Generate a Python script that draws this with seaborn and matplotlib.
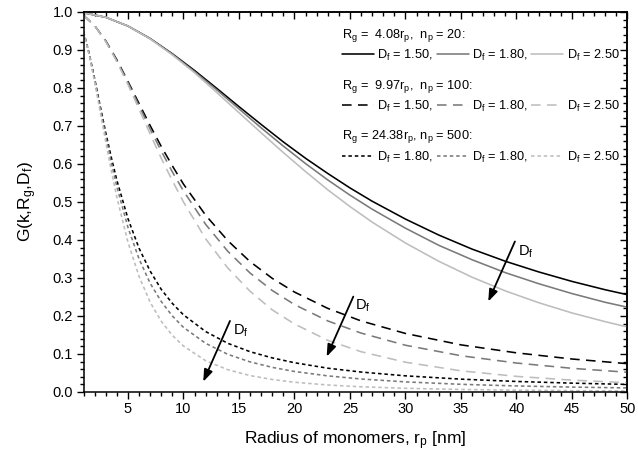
import matplotlib
matplotlib.use("Agg")
import matplotlib.pyplot as plt
from matplotlib.lines import Line2D
from matplotlib.legend import Legend
from matplotlib.ticker import MultipleLocator, FormatStrFormatter, NullFormatter
import seaborn as sns
import pandas as pd

sns.set_theme(style="ticks")
plt.rcParams["font.family"] = ["Liberation Sans", "DejaVu Sans"]
plt.rcParams["mathtext.fontset"] = "custom"
plt.rcParams["mathtext.rm"] = "Liberation Sans"
plt.rcParams["mathtext.it"] = "Liberation Sans:italic"
plt.rcParams["text.color"] = "black"
plt.rcParams["axes.labelcolor"] = "black"

# monomer radius r_p [nm] sampled for each aggregate size
r_small = [1, 3, 5, 7, 9, 11, 13, 15, 17, 19, 21, 23, 25, 27, 30, 33, 36, 39, 42, 45, 48, 50]
r_mid = [1, 2, 3, 4, 5, 6, 7, 8, 9, 10, 12, 14, 16, 18, 20, 23, 26, 30, 35, 40, 45, 50]
r_large = [1, 1.5, 2, 2.5, 3, 3.5, 4, 5, 6, 7, 8, 9, 10, 12, 14, 16, 18, 20, 23, 26, 30, 35, 40, 45, 50]

# Rg = 4.08 rp, np = 20
g20_df150 = [0.998, 0.986, 0.963, 0.930, 0.890, 0.846, 0.799, 0.751, 0.704, 0.658, 0.615,
             0.575, 0.537, 0.502, 0.455, 0.413, 0.376, 0.344, 0.316, 0.291, 0.269, 0.256]
g20_df180 = [0.998, 0.986, 0.963, 0.930, 0.889, 0.843, 0.795, 0.745, 0.695, 0.647, 0.601,
             0.558, 0.518, 0.481, 0.431, 0.386, 0.348, 0.314, 0.285, 0.259, 0.236, 0.223]
g20_df250 = [0.998, 0.986, 0.963, 0.929, 0.887, 0.840, 0.788, 0.735, 0.682, 0.630, 0.580,
             0.532, 0.488, 0.447, 0.392, 0.344, 0.302, 0.266, 0.235, 0.208, 0.185, 0.171]

# Rg = 9.97 rp, np = 100
g100_df150 = [0.991, 0.964, 0.924, 0.874, 0.817, 0.759, 0.701, 0.646, 0.595, 0.547, 0.465,
              0.398, 0.343, 0.299, 0.263, 0.220, 0.187, 0.154, 0.124, 0.103, 0.0868, 0.0745]
g100_df180 = [0.991, 0.964, 0.923, 0.872, 0.814, 0.753, 0.692, 0.634, 0.579, 0.529, 0.441,
              0.370, 0.313, 0.267, 0.230, 0.187, 0.155, 0.123, 0.0954, 0.0762, 0.0623, 0.0519]
g100_df250 = [0.991, 0.964, 0.922, 0.869, 0.809, 0.744, 0.679, 0.615, 0.556, 0.500, 0.403,
              0.326, 0.265, 0.216, 0.179, 0.136, 0.106, 0.0783, 0.0557, 0.0411, 0.0312, 0.0244]

# Rg = 24.38 rp, np = 500
g500_a = [0.948, 0.891, 0.824, 0.752, 0.682, 0.617, 0.557, 0.456, 0.378, 0.318, 0.270, 0.233,
          0.203, 0.159, 0.128, 0.106, 0.0897, 0.0770, 0.0626, 0.0525, 0.0425, 0.0338, 0.0277,
          0.0233, 0.0199]
g500_b = [0.948, 0.890, 0.820, 0.746, 0.673, 0.603, 0.540, 0.433, 0.350, 0.286, 0.238, 0.200,
          0.170, 0.128, 0.0990, 0.0792, 0.0648, 0.0540, 0.0424, 0.0342, 0.0266, 0.0202, 0.0159,
          0.0129, 0.0107]
g500_c = [0.947, 0.888, 0.816, 0.737, 0.658, 0.582, 0.512, 0.394, 0.304, 0.236, 0.186, 0.149,
          0.121, 0.0822, 0.0586, 0.0432, 0.0329, 0.0257, 0.0184, 0.0137, 0.00968, 0.00664,
          0.00478, 0.00357, 0.00275]

headers = [r"R$_\mathrm{g}$ =  4.08r$_\mathrm{p}$,  n$_\mathrm{p}$ = 20:",
           r"R$_\mathrm{g}$ =  9.97r$_\mathrm{p}$,  n$_\mathrm{p}$ = 100:",
           r"R$_\mathrm{g}$ = 24.38r$_\mathrm{p}$, n$_\mathrm{p}$ = 500:"]
row_labels = [[r"D$_\mathrm{f}$ = 1.50,", r"D$_\mathrm{f}$ = 1.80,", r"D$_\mathrm{f}$ = 2.50"],
              [r"D$_\mathrm{f}$ = 1.50,", r"D$_\mathrm{f}$ = 1.80,", r"D$_\mathrm{f}$ = 2.50"],
              [r"D$_\mathrm{f}$ = 1.80,", r"D$_\mathrm{f}$ = 1.80,", r"D$_\mathrm{f}$ = 2.50"]]

shades = ["#000000", "#7a7a7a", "#bdbdbd"]
styles = ["-", (0, (6.0, 4.0)), (0, (2.2, 1.8))]
groups = [(r_small, [g20_df150, g20_df180, g20_df250]),
          (r_mid, [g100_df150, g100_df180, g100_df250]),
          (r_large, [g500_a, g500_b, g500_c])]
LW = 1.15

fig = plt.figure(figsize=(6.38, 4.61), dpi=100)
ax = fig.add_axes([0.131, 0.1497, 0.8525, 0.8243])

for (r, series), ls in zip(groups, styles):
    for g, col in zip(series, shades):
        df = pd.DataFrame({"r": r, "G": g})
        sns.lineplot(data=df, x="r", y="G", ax=ax, color=col, linestyle=ls,
                     linewidth=LW, legend=False)

ax.set_xlim(1, 50)
ax.set_ylim(0, 1)
ax.set_xticks([5, 10, 15, 20, 25, 30, 35, 40, 45, 50])
ax.xaxis.set_minor_locator(MultipleLocator(1))
ax.yaxis.set_major_locator(MultipleLocator(0.1))
ax.yaxis.set_minor_locator(MultipleLocator(0.02))
ax.yaxis.set_major_formatter(FormatStrFormatter("%.1f"))
ax.tick_params(which="both", direction="out", width=1.0, labelsize=10.5,
               colors="black", pad=2.5)
ax.tick_params(which="major", length=5)
ax.tick_params(which="minor", length=3)
for sp in ax.spines.values():
    sp.set_linewidth(1.1)
    sp.set_color("black")

# mirrored ticks on the top and right edges, pointing inward
top = ax.secondary_xaxis("top")
top.set_xticks([5, 10, 15, 20, 25, 30, 35, 40, 45, 50])
top.xaxis.set_minor_locator(MultipleLocator(1))
top.xaxis.set_major_formatter(NullFormatter())
right = ax.secondary_yaxis("right")
right.yaxis.set_major_locator(MultipleLocator(0.1))
right.yaxis.set_minor_locator(MultipleLocator(0.02))
right.yaxis.set_major_formatter(NullFormatter())
for sec in (top, right):
    sec.tick_params(which="both", direction="in", width=1.0, colors="black")
    sec.tick_params(which="major", length=5)
    sec.tick_params(which="minor", length=3)
    for sp in sec.spines.values():
        sp.set_linewidth(1.1)
        sp.set_color("black")

ax.set_xlabel(r"Radius of monomers, r$_\mathrm{p}$ [nm]", fontsize=12.5, labelpad=9)
ax.set_ylabel(r"G(k,R$_\mathrm{g}$,D$_\mathrm{f}$)", fontsize=12.5, labelpad=10)

# three stacked legends, one per aggregate size
leg_y = [0.975, 0.841, 0.707]
for i, (ls, hdr) in enumerate(zip(styles, headers)):
    handles = [Line2D([], [], color=c, linestyle=ls, linewidth=LW) for c in shades]
    leg = Legend(ax, handles, row_labels[i], title=hdr, ncol=3, frameon=False,
                 loc="upper right", bbox_to_anchor=(0.995, leg_y[i]),
                 fontsize=9.2, title_fontsize=9.2, handlelength=2.5,
                 handletextpad=0.25, columnspacing=0.3, borderaxespad=0.2,
                 borderpad=0.2, alignment="left")
    leg._legend_box.sep = 3
    ax.add_artist(leg)

# arrows showing increasing fractal dimension
arrows = [((39.86, 0.396), (37.46, 0.238), (40.1, 0.369)),
          ((25.3, 0.251), (22.9, 0.093), (25.45, 0.226)),
          ((14.19, 0.187), (11.78, 0.027), (14.49, 0.162))]
for tail, head, lab in arrows:
    ax.annotate("", xy=head, xytext=tail,
                arrowprops=dict(arrowstyle="-|>,head_length=0.6,head_width=0.22",
                                color="black", lw=1.3, mutation_scale=12,
                                shrinkA=0, shrinkB=0))
    ax.text(lab[0], lab[1], r"D$_\mathrm{f}$", fontsize=10.5, ha="left", va="center")

fig.savefig("out.png", dpi=100)
